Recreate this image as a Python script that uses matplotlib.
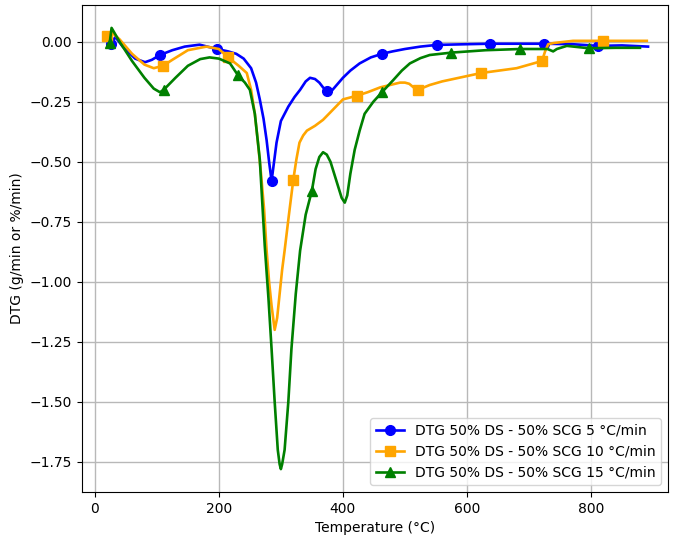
import matplotlib.pyplot as plt

# DTG curves (temperature in °C, DTG value)
t_5 = [26, 33, 45, 65, 81, 92, 105, 125, 145, 169, 197, 215, 228, 240, 252, 260,
       266, 272, 277, 281, 285, 289, 293, 300, 312, 322, 331, 340, 347, 355, 362,
       368, 374, 380, 390, 400, 412, 427, 445, 463, 480, 500, 525, 551, 600, 637,
       680, 724, 770, 811, 850, 892]
dtg_5 = [-0.01, 0.02, -0.02, -0.07, -0.085, -0.075, -0.055, -0.035, -0.02,
         -0.012, -0.03, -0.04, -0.05, -0.07, -0.11, -0.17, -0.24, -0.32, -0.41,
         -0.5, -0.58, -0.5, -0.42, -0.33, -0.27, -0.23, -0.2, -0.165, -0.15,
         -0.155, -0.17, -0.19, -0.205, -0.21, -0.18, -0.15, -0.12, -0.09, -0.065,
         -0.05, -0.04, -0.03, -0.02, -0.013, -0.01, -0.008, -0.008, -0.008,
         -0.01, -0.017, -0.015, -0.02]
mark_5 = [0, 6, 10, 20, 32, 39, 43, 45, 47, 49]

t_10 = [19, 27, 40, 60, 80, 95, 110, 125, 150, 180, 200, 215, 232, 245, 252, 258,
        263, 268, 273, 277, 281, 285, 290, 294, 298, 302, 306, 313, 320, 325, 330,
        336, 342, 355, 368, 385, 400, 422, 440, 460, 492, 500, 507, 514, 521, 540,
        560, 623, 680, 721, 726, 731, 740, 771, 819, 890]
dtg_10 = [0.025, 0.04, 0.01, -0.05, -0.095, -0.11, -0.10, -0.075, -0.035, -0.02,
          -0.03, -0.065, -0.1, -0.13, -0.2, -0.3, -0.42, -0.55, -0.7, -0.87,
          -1.0, -1.1, -1.2, -1.15, -1.05, -0.95, -0.87, -0.72, -0.575, -0.49,
          -0.42, -0.39, -0.37, -0.35, -0.325, -0.28, -0.24, -0.225, -0.21, -0.19,
          -0.17, -0.17, -0.175, -0.19, -0.2, -0.18, -0.165, -0.13, -0.11, -0.08,
          -0.04, -0.01, -0.005, 0.004, 0.004, 0.004]
mark_10 = [0, 6, 11, 28, 37, 44, 47, 49, 54]

t_15 = [24, 27, 40, 60, 80, 95, 105, 111, 130, 150, 170, 185, 200, 218, 231, 242,
        250, 258, 266, 274, 280, 285, 290, 295, 298, 300, 302, 306, 312, 317, 324,
        331, 340, 350, 356, 362, 368, 374, 380, 386, 392, 398, 403, 407, 412, 419,
        427, 435, 449, 463, 481, 495, 508, 525, 540, 575, 630, 686, 730, 739, 745,
        761, 797, 840, 879]
dtg_15 = [-0.005, 0.058, 0.0, -0.08, -0.15, -0.195, -0.21, -0.2, -0.15, -0.1,
          -0.072, -0.065, -0.07, -0.09, -0.14, -0.17, -0.2, -0.3, -0.49, -0.85,
          -1.07, -1.28, -1.5, -1.7, -1.76, -1.78, -1.76, -1.7, -1.5, -1.28, -1.05,
          -0.87, -0.72, -0.62, -0.53, -0.48, -0.46, -0.47, -0.5, -0.55, -0.6,
          -0.65, -0.67, -0.64, -0.55, -0.45, -0.37, -0.3, -0.25, -0.21, -0.16,
          -0.12, -0.09, -0.068, -0.055, -0.045, -0.035, -0.03, -0.03, -0.04,
          -0.03, -0.017, -0.027, -0.025, -0.025]
mark_15 = [0, 7, 14, 33, 49, 55, 57, 62]

fig = plt.figure(figsize=(6.76, 5.37), dpi=100)
ax = fig.add_axes([0.121, 0.084, 0.867, 0.907])

ax.plot(t_5, dtg_5, color='blue', marker='o', markersize=7, linewidth=1.9,
        markevery=mark_5, label='DTG 50% DS - 50% SCG 5 °C/min')
ax.plot(t_10, dtg_10, color='orange', marker='s', markersize=7, linewidth=1.9,
        markevery=mark_10, label='DTG 50% DS - 50% SCG 10 °C/min')
ax.plot(t_15, dtg_15, color='green', marker='^', markersize=7, linewidth=1.9,
        markevery=mark_15, label='DTG 50% DS - 50% SCG 15 °C/min')

ax.set_xlim(-21, 924)
ax.set_ylim(-1.875, 0.154)
ax.set_xticks([0, 200, 400, 600, 800])
ax.set_yticks([0.0, -0.25, -0.5, -0.75, -1.0, -1.25, -1.5, -1.75])
ax.set_xlabel('Temperature (°C)')
ax.set_ylabel('DTG (g/min or %/min)')
ax.grid(True, color='#b8b8b8', linewidth=1)
ax.legend(loc='lower right')

fig.savefig('out.png', dpi=100)
